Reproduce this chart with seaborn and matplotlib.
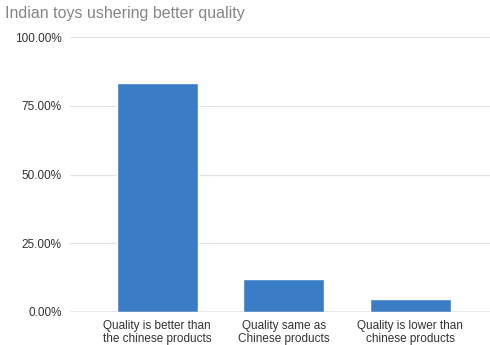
import matplotlib
matplotlib.use('Agg')
import matplotlib.pyplot as plt
import matplotlib.ticker as mticker
import seaborn as sns
import pandas as pd

# Chart data
categories = ['Quality is better than\nthe chinese products',
              'Quality same as\nChinese products',
              'Quality is lower than\nchinese products']
shares = [83.3, 11.9, 4.8]
yticks = [0, 25, 50, 75, 100]

df = pd.DataFrame({'category': categories, 'share': shares})

sns.set_style('white')
plt.rcParams['font.family'] = ['Liberation Sans', 'DejaVu Sans']

fig = plt.figure(figsize=(4.9, 3.45), dpi=100)
ax = fig.add_axes([0.143, 0.0957, 0.857, 0.797])

sns.barplot(data=df, x='category', y='share', color='#3b7cc7',
            saturation=1, width=0.64, ax=ax, zorder=3)

ax.set_ylim(0, 100)
ax.set_xlim(-0.688, 2.632)
ax.set_yticks(yticks)
ax.yaxis.set_major_formatter(mticker.FuncFormatter(lambda v, p: f'{v:.2f}%'))
ax.grid(axis='y', color='#e3e3e3', linewidth=0.9, zorder=0)
ax.axhline(0, color='#9a9a9a', linewidth=1, zorder=4)

for s in ax.spines.values():
    s.set_visible(False)
ax.tick_params(axis='both', length=0, labelsize=8.5, labelcolor='#333333')
ax.tick_params(axis='y', pad=6)
ax.tick_params(axis='x', pad=6)
for lbl in ax.get_xticklabels():
    lbl.set_linespacing(1.05)
ax.set_xlabel('')
ax.set_ylabel('')

fig.text(0.01, 0.962, 'Indian toys ushering better quality', fontsize=11.5,
         color='#858585', ha='left', va='center')

fig.savefig('out.png', dpi=100)
